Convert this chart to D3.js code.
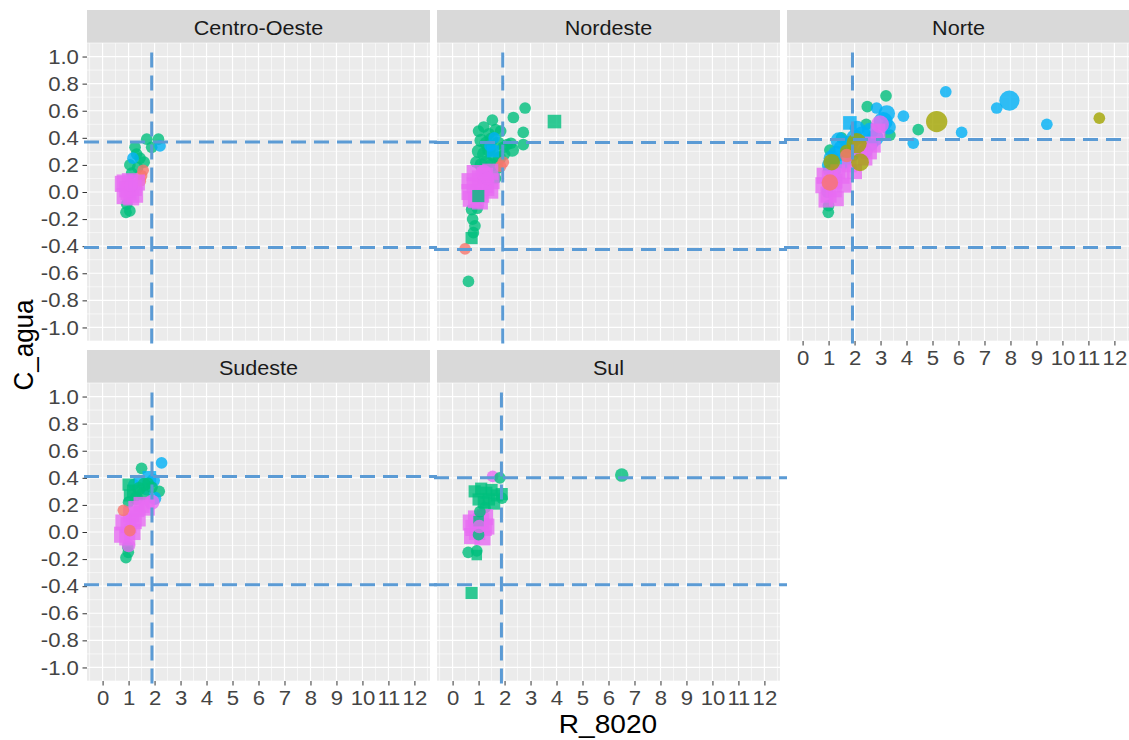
<!DOCTYPE html>
<html>
<head>
<meta charset="utf-8">
<script src="https://cdn.jsdelivr.net/npm/d3@7"></script>
<style>
  body { margin: 0; background: #fff; }
  text { font-family: "Liberation Sans", Arial, sans-serif; }
</style>
</head>
<body>
<div id="chart"></div>
<script>
// facets and guide lines
const regioes = ["Centro-Oeste", "Nordeste", "Norte", "Sudeste", "Sul"];
const grupos = ["g1", "g2", "g3", "g4", "g5"];
const xTicks = [0, 1, 2, 3, 4, 5, 6, 7, 8, 9, 10, 11, 12];
const yTicks = [-1.0, -0.8, -0.6, -0.4, -0.2, 0.0, 0.2, 0.4, 0.6, 0.8, 1.0];
const linhaV = [1.89, 1.93, 1.92, 1.9, 1.88];
const linhaSup = [0.37, 0.365, 0.387, 0.41, 0.40];
const linhaInf = [-0.41, -0.425, -0.41, -0.39, -0.39];

// points: [R_8020, C_agua, grupo, forma (0 circulo, 1 quadrado), tamanho]
const centroOeste = [
  [1.70,0.39,2,0,1.5],[2.15,0.39,2,0,1.5],[1.89,0.33,2,0,1.5],[1.25,0.33,2,0,1.5],
  [1.31,0.28,2,0,1.5],[1.44,0.25,2,0,1.5],[1.60,0.22,2,0,1.5],[1.05,0.20,2,0,1.5],
  [1.35,0.18,2,0,1.5],[1.12,0.14,2,0,1.5],[2.21,0.34,3,0,1.5],[1.17,0.25,3,0,1.5],
  [0.93,-0.09,2,0,1.5],[1.05,-0.14,2,0,1.5],[0.90,-0.15,2,0,1.5],
  [1.56,0.16,0,0,1.5],[1.50,0.12,0,0,1.5],[1.45,0.08,0,0,1.5],
  [0.78,0.06,4,1,3.5],[1.00,0.00,4,1,3.5],[1.20,0.03,4,1,3.5],[0.85,-0.03,4,1,3.5],
  [1.10,-0.04,4,1,3.5],[1.32,0.07,4,1,3.5],[0.85,0.07,4,1,3.5],[1.05,0.08,4,1,3.5],
  [1.25,-0.02,4,1,3.5],[0.95,0.02,4,1,3.5],[1.10,0.05,4,0,2]
];
const nordeste = [
  [2.79,0.62,2,0,1.5],[3.92,0.52,2,1,2.5],[2.34,0.55,2,0,1.5],[2.72,0.44,2,0,1.5],
  [2.72,0.35,2,0,1.5],[1.53,0.53,2,0,1.5],[1.00,0.45,2,0,1.5],[1.20,0.48,2,0,1.5],
  [1.40,0.43,2,0,1.5],[1.65,0.46,2,0,1.5],[1.85,0.45,2,0,1.5],[1.10,0.38,2,0,2],
  [1.30,0.36,2,0,2],[1.50,0.39,2,0,2],[1.75,0.36,2,0,2],[1.95,0.33,2,0,1.5],
  [2.10,0.35,2,0,1.5],[2.30,0.31,2,0,2],[1.00,0.30,2,0,2],[1.20,0.28,2,0,2],
  [1.40,0.31,2,0,2],[1.60,0.27,2,0,2],[1.80,0.25,2,0,2],[2.00,0.28,2,0,1.5],
  [0.90,0.22,2,0,1.5],[1.10,0.20,2,0,2],[1.30,0.22,2,0,2],[1.50,0.20,2,0,2],
  [1.70,0.18,2,0,2],[2.25,0.36,2,0,1.5],[1.25,0.13,2,0,1.5],[1.65,0.10,2,0,1.5],
  [1.44,0.34,3,0,1.5],[1.60,0.40,3,0,1.5],[1.55,0.30,3,1,2],
  [1.95,0.22,0,0,1.5],[1.85,0.19,0,0,1.5],
  [0.73,-0.13,2,0,1.5],[0.95,-0.12,2,0,1.5],[0.77,-0.20,2,0,1.5],[0.86,-0.25,2,0,1.5],
  [0.80,-0.30,2,0,1.5],[0.73,-0.34,2,1,2],[0.61,-0.66,2,0,1.5],[0.48,-0.42,0,0,1.5],
  [0.65,0.00,4,1,3.5],[0.85,0.05,4,1,3.5],[1.05,0.10,4,1,3.5],[1.25,0.12,4,1,3.5],
  [1.45,0.15,4,1,3.5],[0.70,-0.05,4,1,3.5],[0.90,-0.06,4,1,3.5],[1.10,-0.02,4,1,3.5],
  [1.30,0.03,4,1,3.5],[1.50,0.08,4,1,3.5],[0.65,0.08,4,1,3.5],[0.85,0.14,4,1,3.5],
  [1.05,-0.07,4,1,3.5],[1.25,0.05,4,1,3.5],[1.45,0.01,4,1,3.5],
  [1.20,0.14,4,0,3],[1.35,0.10,4,0,2],[0.99,-0.03,2,1,2]
];
const norte = [
  [5.51,0.74,3,0,1.5],[7.96,0.675,3,0,4.5],[7.47,0.62,3,0,1.5],[9.40,0.50,3,0,1.5],
  [6.12,0.44,3,0,1.5],[4.45,0.46,2,0,1.5],[4.26,0.36,3,0,1.5],[3.88,0.56,3,0,1.5],
  [3.21,0.71,2,0,1.5],[2.49,0.63,2,0,1.5],[2.85,0.62,3,0,1.5],[3.24,0.58,3,0,3],
  [3.36,0.42,2,0,1.5],[0.99,-0.15,2,0,1.5],[1.05,0.31,2,0,1.5],[1.20,0.24,2,0,1.5],
  [2.45,0.50,2,0,1.5],[1.00,0.16,2,0,1.5],[1.50,0.40,2,0,1.5],[1.00,-0.10,2,0,1.5],
  [1.30,0.10,2,0,1.5],[0.95,0.00,2,0,1.5],
  [3.10,0.52,3,0,4],[2.60,0.45,3,0,3],[2.30,0.42,3,0,3.5],[2.00,0.40,3,0,3],
  [1.80,0.35,3,0,3.5],[1.50,0.32,3,0,3],[1.30,0.28,3,0,3],[1.60,0.22,3,0,2.5],
  [2.40,0.30,3,0,2.5],[2.80,0.40,3,0,3],[1.20,0.16,3,0,2.5],[1.00,0.20,3,0,2],
  [3.30,0.48,3,0,2.5],[1.82,0.51,3,1,2.5],[1.40,0.38,3,0,3],[2.10,0.47,3,0,2.5],
  [2.60,0.36,3,0,3],[1.10,0.25,3,0,2.5],[1.90,0.28,3,0,2.5],
  [2.70,0.35,4,1,3.5],[2.55,0.30,4,1,3.5],[2.90,0.45,4,1,3],[2.20,0.32,4,1,3],
  [1.80,0.20,4,1,3],[1.50,0.12,4,1,3.5],[0.80,0.05,4,1,3.5],[1.00,-0.02,4,1,3.5],
  [1.20,0.02,4,1,3.5],[0.85,0.12,4,1,3.5],[1.05,0.10,4,1,3.5],[1.25,0.08,4,1,3],
  [0.90,-0.06,4,1,3],[1.35,0.15,4,1,3],[2.40,0.25,4,1,3],[2.00,0.15,4,1,3],
  [1.60,0.05,4,1,3],[1.30,-0.05,4,1,3],[2.98,0.50,4,0,3.5],
  [5.16,0.52,1,0,5],[11.42,0.545,1,0,1.5],[2.08,0.36,1,0,4.5],[2.21,0.22,1,0,3.5],
  [1.12,0.22,1,0,3],[1.70,0.30,1,0,2],
  [1.05,0.07,0,0,3],[1.70,0.27,0,0,2]
];
const sudeste = [
  [2.27,0.51,3,0,1.5],[1.50,0.47,2,0,1.5],[2.18,0.30,2,0,1.5],
  [1.80,0.40,3,1,2.5],[1.95,0.38,3,0,2],[1.70,0.32,3,0,2],[2.00,0.25,3,0,2],
  [1.20,0.35,3,0,1.5],[1.40,0.38,3,0,1.5],
  [1.00,0.35,2,1,2],[1.20,0.30,2,1,2.5],[1.40,0.32,2,0,2],[1.60,0.35,2,0,2],
  [1.05,0.27,2,1,2],[1.30,0.25,2,0,2],[1.55,0.28,2,0,2],[1.75,0.36,2,0,1.5],
  [1.90,0.33,2,0,1.5],[1.00,0.22,2,0,1.5],
  [0.99,-0.15,2,0,1.5],[0.90,-0.19,2,0,1.5],[0.97,-0.11,2,0,1.5],
  [1.50,0.20,4,1,3.5],[1.70,0.18,4,1,3.5],[1.30,0.17,4,1,3.5],[1.10,0.13,4,1,3.5],
  [0.80,0.07,4,1,3.5],[1.00,0.05,4,1,3.5],[1.20,0.08,4,1,3.5],[0.75,-0.02,4,1,3.5],
  [0.95,-0.04,4,1,3.5],[1.15,0.00,4,1,3.5],[1.35,0.10,4,1,3.5],[1.90,0.22,4,0,2.5],
  [1.05,0.01,0,0,1.5],[0.80,0.16,0,0,1.5],[1.00,-0.10,4,0,2]
];
const sul = [
  [6.51,0.42,2,0,2],[1.54,0.41,4,0,1.5],[1.82,0.40,2,0,1.5],
  [0.85,0.30,2,1,2],[1.10,0.32,2,1,2],[1.30,0.29,2,1,2],[1.50,0.31,2,1,2],
  [1.70,0.27,2,1,2],[1.89,0.28,2,1,2],[1.00,0.24,2,1,2],[1.20,0.22,2,1,2],
  [1.40,0.24,2,1,2],[1.60,0.21,2,1,2],[1.25,0.18,2,0,1.5],[1.90,0.25,2,0,1.5],
  [0.70,0.07,4,1,3.5],[0.90,0.10,4,1,3.5],[1.10,0.08,4,1,3.5],[1.25,0.11,4,1,3.5],
  [0.75,-0.03,4,1,3.5],[0.95,0.00,4,1,3.5],[1.15,-0.04,4,1,3.5],[1.30,0.04,4,1,3.5],
  [0.80,0.03,4,1,3.5],[1.20,0.03,4,1,3.5],
  [1.00,0.08,2,1,1.5],[1.00,-0.02,2,0,1.5],[1.05,0.15,2,0,1.5],[1.03,0.04,4,0,2],
  [0.60,-0.15,2,0,1.5],[0.93,-0.14,2,0,1.5],[0.93,-0.17,2,1,1.5],[0.73,-0.45,2,1,2]
];
const dadosRegiao = [centroOeste, nordeste, norte, sudeste, sul];

const width = 1129, height = 740;
const stretch = 1.08;   // the original picture is a bit wider than tall
const panelW = 343, panelH = 298, stripH = 33;
const colX = [87, 437, 787];
const rowY = [10, 350];

const cor = d3.scaleOrdinal()
  .domain(d3.range(grupos.length))
  .range(["#F8766D", "#A3A500", "#00BF7D", "#00B0F6", "#E76BF3"]);
const raio = d3.scaleSqrt().domain([0, 8]).range([0, 13.5]);

const svg = d3.select("#chart").append("svg")
  .attr("width", width)
  .attr("height", height);

regioes.forEach(function(nome, i) {
  const col = i % 3, row = Math.floor(i / 3);
  const left = colX[col], top = rowY[row] + stripH;

  const x = d3.scaleLinear().domain([-0.6, 12.6]).range([left, left + panelW]);
  const y = d3.scaleLinear().domain([-1.1, 1.1]).range([top + panelH, top]);

  // strip
  svg.append("rect")
    .attr("x", left).attr("y", rowY[row])
    .attr("width", panelW).attr("height", stripH)
    .attr("fill", "#D9D9D9");
  svg.append("text")
    .attr("transform", `translate(${left + panelW / 2},${rowY[row] + 24.5}) scale(${stretch},1)`)
    .attr("text-anchor", "middle")
    .style("font-size", "20px")
    .attr("fill", "#1A1A1A")
    .text(nome);

  // panel + grid
  svg.append("rect")
    .attr("x", left).attr("y", top)
    .attr("width", panelW).attr("height", panelH)
    .attr("fill", "#EBEBEB");

  const xMinor = xTicks.map(d => d - 0.5).concat([12.5]);
  const yMinor = yTicks.map(d => d - 0.1).concat([1.1]);
  const grid = svg.append("g");
  grid.selectAll(".vmin").data(xMinor).enter().append("line")
    .attr("x1", d => x(d)).attr("x2", d => x(d))
    .attr("y1", top).attr("y2", top + panelH)
    .attr("stroke", "#fff").attr("stroke-width", 0.6);
  grid.selectAll(".hmin").data(yMinor).enter().append("line")
    .attr("y1", d => y(d)).attr("y2", d => y(d))
    .attr("x1", left).attr("x2", left + panelW)
    .attr("stroke", "#fff").attr("stroke-width", 0.6);
  grid.selectAll(".vmaj").data(xTicks).enter().append("line")
    .attr("x1", d => x(d)).attr("x2", d => x(d))
    .attr("y1", top).attr("y2", top + panelH)
    .attr("stroke", "#fff").attr("stroke-width", 1.2);
  grid.selectAll(".hmaj").data(yTicks).enter().append("line")
    .attr("y1", d => y(d)).attr("y2", d => y(d))
    .attr("x1", left).attr("x2", left + panelW)
    .attr("stroke", "#fff").attr("stroke-width", 1.2);

  // points
  svg.append("clipPath").attr("id", "clip" + i)
    .append("rect")
    .attr("x", left).attr("y", top)
    .attr("width", panelW).attr("height", panelH);
  const pts = svg.append("g").attr("clip-path", `url(#clip${i})`);
  dadosRegiao[i].forEach(function(d) {
    const r = raio(d[4]);
    if (d[3] === 1) {
      pts.append("rect")
        .attr("x", x(d[0]) - r * 0.9).attr("y", y(d[1]) - r * 0.9)
        .attr("width", r * 1.8).attr("height", r * 1.8)
        .attr("fill", cor(d[2])).attr("fill-opacity", 0.8);
    } else {
      pts.append("circle")
        .attr("cx", x(d[0])).attr("cy", y(d[1])).attr("r", r)
        .attr("fill", cor(d[2])).attr("fill-opacity", 0.8);
    }
  });

  // axes
  if (col === 0) {
    const ay = svg.append("g")
      .attr("transform", `translate(${left},0)`)
      .call(d3.axisLeft(y).tickValues(yTicks).tickSize(4.5).tickPadding(3)
        .tickFormat(d => d.toFixed(1)));
    ay.select(".domain").remove();
    ay.selectAll("line").attr("stroke", "#333333");
    ay.selectAll("text")
      .attr("transform", `scale(${stretch},1)`)
      .attr("fill", "#444444")
      .style("font-size", "20.5px");
  }
  if (row === 1 || i === 2) {
    const ax = svg.append("g")
      .attr("transform", `translate(0,${top + panelH})`)
      .call(d3.axisBottom(x).tickValues(xTicks).tickSize(4.5).tickPadding(5)
        .tickFormat(d3.format("d")));
    ax.select(".domain").remove();
    ax.selectAll("line").attr("stroke", "#333333");
    ax.selectAll("text")
      .attr("transform", `scale(${stretch},1)`)
      .attr("fill", "#444444")
      .style("font-size", "20.5px");
  }

  // dashed guide lines
  const guia = svg.append("g")
    .attr("stroke", "#5B9BD5")
    .attr("stroke-width", 3)
    .attr("stroke-dasharray", "15,8");
  guia.append("line")
    .attr("x1", x(linhaV[i])).attr("x2", x(linhaV[i]))
    .attr("y1", y(1.03)).attr("y2", y(-1.12));
  [linhaSup[i], linhaInf[i]].forEach(function(v) {
    guia.append("line")
      .attr("x1", left - 3).attr("x2", left + panelW + 7)
      .attr("y1", y(v)).attr("y2", y(v));
  });
});

// axis titles
svg.append("text")
  .attr("transform", `translate(608,733) scale(${stretch},1)`)
  .attr("text-anchor", "middle")
  .style("font-size", "26px")
  .attr("fill", "#000")
  .text("R_8020");

svg.append("text")
  .attr("transform", `translate(33,345) rotate(-90) scale(1,${stretch})`)
  .attr("text-anchor", "middle")
  .style("font-size", "26px")
  .attr("fill", "#000")
  .text("C_agua");
</script>
</body>
</html>
